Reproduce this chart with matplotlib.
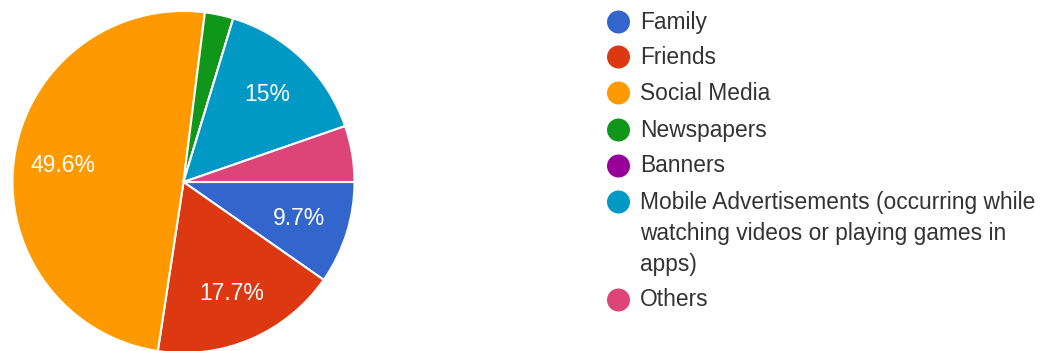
import matplotlib
matplotlib.use("Agg")
import matplotlib.pyplot as plt
from matplotlib.patches import Circle

categories = ["Family", "Friends", "Social Media", "Newspapers", "Banners",
              "Mobile Advertisements (occurring while\nwatching videos or playing games in\napps)",
              "Others"]
values = [9.7, 17.7, 49.6, 2.7, 0.0, 15.0, 5.3]
colors = ["#3366cc", "#dc3912", "#ff9900", "#109618", "#990099", "#0099c6", "#dd4477"]

W, H = 1050, 351
fig = plt.figure(figsize=(W / 100, H / 100), dpi=100)
plt.rcParams['font.family'] = ['Liberation Sans', 'DejaVu Sans']

cx, cy, R = 183.5, 182, 171
ax = fig.add_axes([(cx - R) / W, (H - cy - R) / H, 2 * R / W, 2 * R / H])

def fmt(p):
    if p < 7:
        return ""
    s = f"{p:.1f}"
    if s.endswith(".0"):
        s = s[:-2]
    return s + "%"

wedges, texts, autotexts = ax.pie(values, colors=colors, startangle=0, counterclock=False,
                                  autopct=fmt, pctdistance=0.71, radius=1,
                                  wedgeprops=dict(edgecolor="white", linewidth=1.5))
for t in autotexts:
    t.set_color("white")
    t.set_fontsize(16.5)
ax.set_xlim(-1, 1)
ax.set_ylim(-1, 1)
ax.set_aspect("equal")
ax.axis("off")

# Legend
item_y = [22, 57, 93, 130, 166, 202, 300]
line_gap = 31.5
mx, tx = 618.5, 640
for lab, col, y in zip(categories, colors, item_y):
    fig.add_artist(Circle((mx, H - y), 11.5, transform=None, facecolor=col, edgecolor="none"))
    for k, line in enumerate(lab.split("\n")):
        fig.text(tx / W, 1 - (y + k * line_gap) / H, line, fontsize=16.4, color="#333333",
                 va="center", ha="left")

fig.savefig("out.png", dpi=100)
